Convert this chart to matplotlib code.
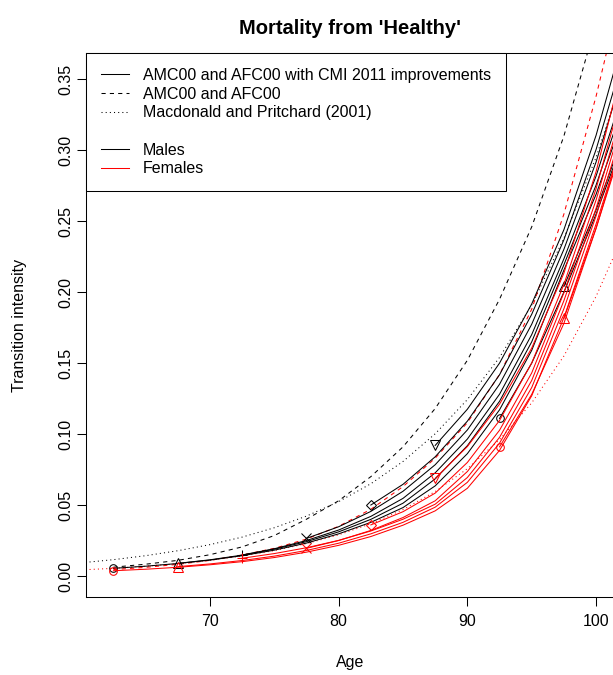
import matplotlib
matplotlib.use("Agg")
import matplotlib.pyplot as plt
from matplotlib.lines import Line2D
import numpy as np

# --- Age grid used for the projected curves ---
ages = [62.5, 65, 67.5, 70, 72.5, 75, 77.5, 80, 82.5, 85, 87.5, 90, 92.5, 95, 97.5, 100, 101.5]
mp_ages = [60, 62.5, 65, 67.5, 70, 72.5, 75, 77.5, 80, 82.5, 85, 87.5, 90, 92.5, 95, 97.5, 100, 102]

# --- Start ages of each projected curve (marker positions) ---
start_ages = [62.5, 67.5, 72.5, 77.5, 82.5, 87.5, 92.5, 97.5]
marker_styles = ['o', '^', '+', 'x', 'D', 'v', 'o', '^']

# --- AMC00 with CMI 2011 improvements (males), one list per start age ---
male_proj = [
    [0.0054, 0.0069, 0.0088, 0.0112, 0.0143, 0.0182, 0.0232, 0.0297, 0.0378, 0.0482, 0.0635, 0.0862, 0.1171, 0.159, 0.2155, 0.2689, 0.3073],
    [0.0089, 0.0114, 0.0147, 0.0189, 0.0242, 0.0311, 0.0399, 0.0513, 0.0684, 0.0918, 0.1231, 0.165, 0.2193, 0.2754, 0.3157],
    [0.0148, 0.0192, 0.0250, 0.0324, 0.0420, 0.0547, 0.0727, 0.0965, 0.1281, 0.1701, 0.2235, 0.2818, 0.3238],
    [0.0265, 0.0347, 0.0455, 0.0597, 0.0784, 0.1029, 0.1351, 0.1774, 0.2302, 0.2917, 0.3362],
    [0.050, 0.0646, 0.0840, 0.1091, 0.1418, 0.1844, 0.2369, 0.3005, 0.3464],
    [0.092, 0.1175, 0.150, 0.1917, 0.244, 0.3105, 0.359],
    [0.111, 0.150, 0.200, 0.255, 0.292],
    [0.204, 0.258, 0.295],
]

# --- AFC00 with CMI 2011 improvements (females) ---
female_proj = [
    [0.0037, 0.00477, 0.00613, 0.0079, 0.0101, 0.0130, 0.0168, 0.0216, 0.0278, 0.0358, 0.0459, 0.0618, 0.0885, 0.127, 0.182, 0.248, 0.291],
    [0.0066, 0.0085, 0.0109, 0.0140, 0.0180, 0.0231, 0.0297, 0.0378, 0.0485, 0.066, 0.0936, 0.1328, 0.1883, 0.2537, 0.2983],
    [0.0125, 0.0158, 0.0199, 0.0251, 0.0317, 0.040, 0.0506, 0.0694, 0.0977, 0.1378, 0.194, 0.259, 0.3044],
    [0.0195, 0.0250, 0.0321, 0.0412, 0.0530, 0.0736, 0.1027, 0.1431, 0.1996, 0.2649, 0.3114],
    [0.036, 0.0453, 0.0584, 0.080, 0.1096, 0.1501, 0.2055, 0.2729, 0.3225],
    [0.0688, 0.0912, 0.1211, 0.1606, 0.2134, 0.2849, 0.3387],
    [0.091, 0.128, 0.178, 0.245, 0.288],
    [0.1815, 0.245, 0.29],
]

# --- AMC00 / AFC00 (no improvements) ---
amc00 = [0.0062, 0.0083, 0.0110, 0.0150, 0.0205, 0.0285, 0.0400, 0.0530, 0.0700, 0.0910, 0.1180, 0.1520, 0.1950, 0.2460, 0.3100, 0.3900, 0.4400]
afc00 = [0.0045, 0.0061, 0.0082, 0.0110, 0.0148, 0.0195, 0.0260, 0.0350, 0.0470, 0.0630, 0.0830, 0.1080, 0.1420, 0.1880, 0.2550, 0.3380, 0.3950]

# --- Macdonald and Pritchard (2001) ---
mp_male = [0.0093, 0.0115, 0.0143, 0.0178, 0.0221, 0.0274, 0.0340, 0.0422, 0.0524, 0.0650, 0.0807, 0.1002, 0.1243, 0.154, 0.191, 0.238, 0.295, 0.35]
mp_female = [0.0043, 0.0054, 0.0069, 0.0087, 0.0111, 0.0141, 0.0179, 0.0228, 0.0290, 0.0368, 0.0468, 0.0595, 0.0756, 0.0961, 0.122, 0.155, 0.197, 0.238]

LW = 0.75
FS = 11.5
DASHED = (0, (4, 4))
DOTTED = (0, (1, 3))

plt.rcParams['font.family'] = ['Liberation Sans', 'DejaVu Sans']

fig = plt.figure(figsize=(6.13, 6.75), dpi=100)
ax = fig.add_axes([86 / 613, 78 / 675, 529 / 613, 544 / 675])

# reference curves
ax.plot(mp_ages, mp_male, color='black', lw=LW, ls=DOTTED)
ax.plot(mp_ages, mp_female, color='red', lw=LW, ls=DOTTED)
ax.plot(ages, amc00, color='black', lw=LW, ls=DASHED)
ax.plot(ages, afc00, color='red', lw=LW, ls=DASHED)

# projected curves with a marker at their start
for curves, col in [(male_proj, 'black'), (female_proj, 'red')]:
    for a0, vals, m in zip(start_ages, curves, marker_styles):
        i0 = ages.index(a0)
        ax.plot(ages[i0:], vals, color=col, lw=LW)
        ms = 5.5 if m in ('o', 'D') else 6.5
        ax.plot([a0], [vals[0]], ls='none', marker=m, ms=ms, mfc='none',
                mec=col, mew=LW)

ax.set_xlim(60.37, 101.47)
ax.set_ylim(-0.0148, 0.3685)
ax.set_xticks([70, 80, 90, 100])
yt = np.arange(0, 0.351, 0.05)
ax.set_yticks(yt)
ax.set_yticklabels([f'{v:.2f}' for v in yt], rotation=90, va='center')
ax.tick_params(direction='out', length=6.6, width=LW, labelsize=FS)
ax.tick_params(axis='x', pad=5.5)
ax.tick_params(axis='y', pad=2.5)
for s in ax.spines.values():
    s.set_linewidth(LW)

ax.set_xlabel('Age', fontsize=FS)
ax.xaxis.set_label_coords(0.5, (597 - 662) / 544)
ax.xaxis.label.set_va('center')
ax.set_ylabel('Transition intensity', fontsize=FS)
ax.yaxis.set_label_coords((20 - 86) / 529, 0.5)
ax.yaxis.label.set_va('center')

fig.text(350 / 613, 1 - 28 / 675, "Mortality from 'Healthy'", ha='center',
         va='center', fontsize=14.5, fontweight='bold')

handles = [
    Line2D([], [], color='black', lw=LW),
    Line2D([], [], color='black', lw=LW, ls=DASHED),
    Line2D([], [], color='black', lw=LW, ls=DOTTED),
    Line2D([], [], ls='none'),
    Line2D([], [], color='black', lw=LW),
    Line2D([], [], color='red', lw=LW),
]
labels = ['AMC00 and AFC00 with CMI 2011 improvements', 'AMC00 and AFC00',
          'Macdonald and Pritchard (2001)', ' ', 'Males', 'Females']
leg = ax.legend(handles, labels, loc='upper left', bbox_to_anchor=(0, 1),
                borderaxespad=0, fontsize=FS, fancybox=False, framealpha=1,
                edgecolor='black', handlelength=1.75, handletextpad=0.875,
                labelspacing=0.23, borderpad=0.94)
leg.get_frame().set_linewidth(LW)

fig.savefig('out.png', dpi=100)
